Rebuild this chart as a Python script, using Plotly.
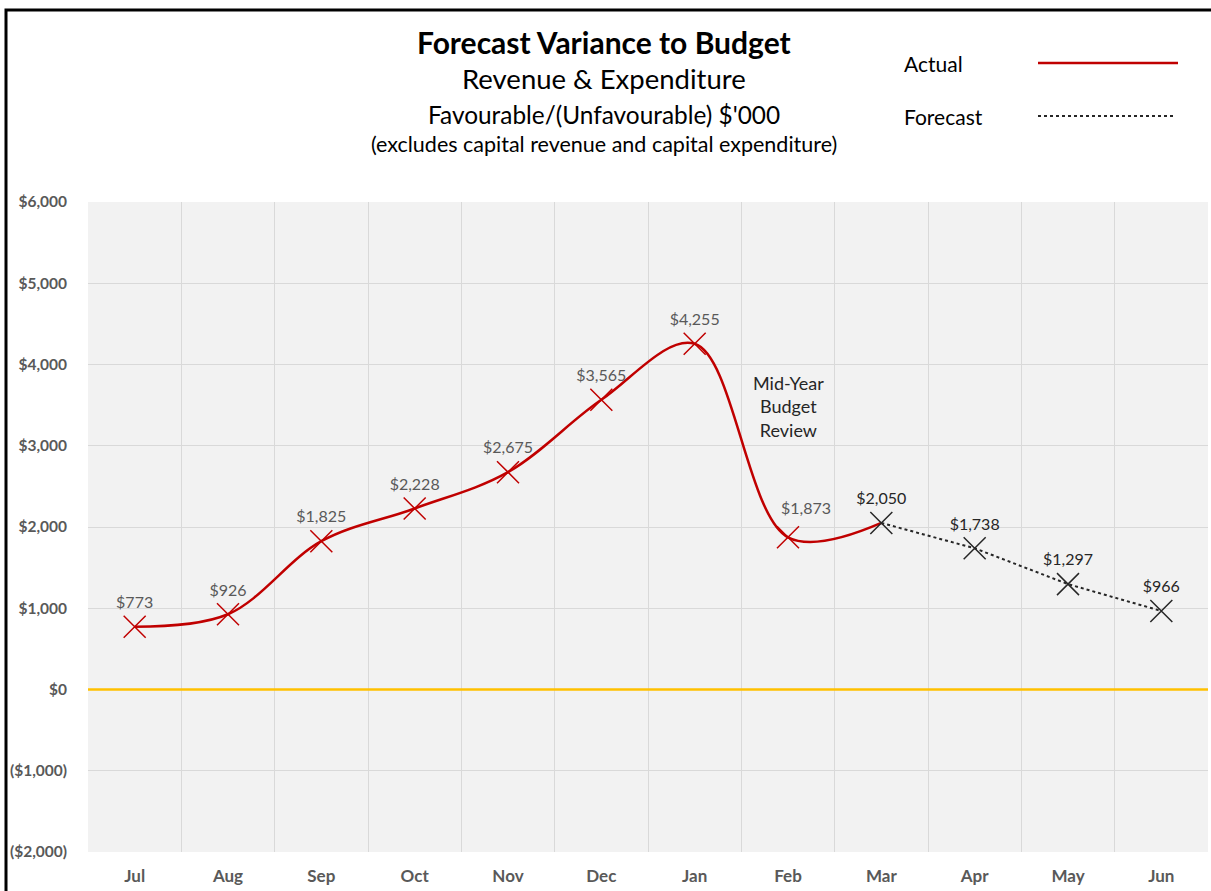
import plotly.graph_objects as go

months = ["Jul", "Aug", "Sep", "Oct", "Nov", "Dec", "Jan", "Feb", "Mar", "Apr", "May", "Jun"]
actual = [773, 926, 1825, 2228, 2675, 3565, 4255, 1873, 2050]
forecast = [2050, 1738, 1297, 966]
y_ticks = [-2000, -1000, 0, 1000, 2000, 3000, 4000, 5000, 6000]

def fmt(v):
    return f"${v:,.0f}" if v >= 0 else f"(${-v:,.0f})"

W, H = 1211, 891
PL, PR, PT, PB = 88, 1208, 202, 852
L, R, T, B = PL, W - PR, PT, H - PB
PW, PH = W - L - R, H - T - B

def px(x):
    return (x - L) / PW

def py(y):
    return (H - B - y) / PH

FONT = "Lato"
RED = "#C00000"

fig = go.Figure()

fig.add_trace(go.Scatter(
    x=months[:len(actual)], y=actual, mode="lines",
    line=dict(color=RED, width=2.5, shape="spline", smoothing=1.0),
    showlegend=False, hoverinfo="skip"))
fig.add_trace(go.Scatter(
    x=months[len(actual) - 1:], y=forecast, mode="lines",
    line=dict(color="#262626", width=2, dash="dot"),
    showlegend=False, hoverinfo="skip"))

act_labels = [fmt(v) for v in actual[:-1]]
feb_idx = months.index("Feb")
act_labels[feb_idx] = ""
fig.add_trace(go.Scatter(
    x=months[:len(actual) - 1], y=actual[:-1], mode="markers+text",
    marker=dict(symbol="x-thin", size=22, line=dict(color=RED, width=1.5)),
    text=act_labels, textposition="top center",
    textfont=dict(family=FONT, size=16, color="#595959"),
    showlegend=False))
fig.add_annotation(text=fmt(actual[feb_idx]), x=months[feb_idx], y=actual[feb_idx],
                   xref="x", yref="y", showarrow=False, xshift=18, yshift=30,
                   font=dict(family=FONT, size=16, color="#595959"))
fig.add_trace(go.Scatter(
    x=months[len(actual) - 1:], y=forecast, mode="markers+text",
    marker=dict(symbol="x-thin", size=22, line=dict(color="#262626", width=1.5)),
    text=[fmt(v) for v in forecast], textposition="top center",
    textfont=dict(family=FONT, size=16, color="#262626"),
    showlegend=False))

fig.add_shape(type="line", xref="paper", yref="y", x0=0, x1=1, y0=0, y1=0,
              line=dict(color="#FFC000", width=2.5))

fig.add_shape(type="rect", xref="paper", yref="paper",
              x0=px(6), x1=px(W + 20), y0=py(H + 20), y1=py(10),
              line=dict(color="black", width=3), layer="above")

titles = [
    ("<b>Forecast Variance to Budget</b>", 42, 30),
    ("Revenue & Expenditure", 79, 27.5),
    ("Favourable/(Unfavourable) $'000", 115, 24.4),
    ("(excludes capital revenue and capital expenditure)", 144, 21.5),
]
for txt, yc, sz in titles:
    fig.add_annotation(text=txt, xref="paper", yref="paper", x=px(604), y=py(yc),
                       showarrow=False, xanchor="center", yanchor="middle",
                       font=dict(family=FONT, size=sz, color="#000000"))

fig.add_annotation(text="Actual", xref="paper", yref="paper", x=px(902), y=py(63),
                   showarrow=False, xanchor="left", yanchor="middle",
                   font=dict(family=FONT, size=21, color="#000000"))
fig.add_annotation(text="Forecast", xref="paper", yref="paper", x=px(902), y=py(116),
                   showarrow=False, xanchor="left", yanchor="middle",
                   font=dict(family=FONT, size=21, color="#000000"))
fig.add_shape(type="line", xref="paper", yref="paper", x0=px(1038), x1=px(1178),
              y0=py(63), y1=py(63), line=dict(color=RED, width=2.5))
fig.add_shape(type="line", xref="paper", yref="paper", x0=px(1038), x1=px(1173),
              y0=py(116), y1=py(116), line=dict(color="#262626", width=2, dash="dot"))

fig.add_annotation(text="Mid-Year<br>Budget<br>Review", xref="x", yref="paper",
                   x="Feb", y=py(406), showarrow=False, xanchor="center", yanchor="middle",
                   font=dict(family=FONT, size=18, color="#262626"))

fig.update_layout(
    width=W, height=H,
    margin=dict(l=L, r=R, t=T, b=B),
    paper_bgcolor="white", plot_bgcolor="#F2F2F2",
    showlegend=False,
    xaxis=dict(type="category", categoryorder="array", categoryarray=months,
               tickson="boundaries", showgrid=True, gridcolor="#D9D9D9", gridwidth=1,
               ticks="", showline=False, zeroline=False,
               tickfont=dict(family=FONT, size=17, color="#595959", weight="bold"),
               ticklabelstandoff=12, range=[-0.5, 11.5]),
    yaxis=dict(range=[-2000, 6000], tickvals=y_ticks, ticktext=[fmt(v) for v in y_ticks],
               showgrid=True, gridcolor="#D9D9D9", gridwidth=1, zeroline=False,
               ticks="", showline=False,
               tickfont=dict(family=FONT, size=15.5, color="#595959", weight="bold"),
               ticklabelstandoff=20),
)

fig.write_html("out.html", config={"displayModeBar": False},
               post_script="document.body.style.margin='0';document.body.style.overflow='hidden';")
